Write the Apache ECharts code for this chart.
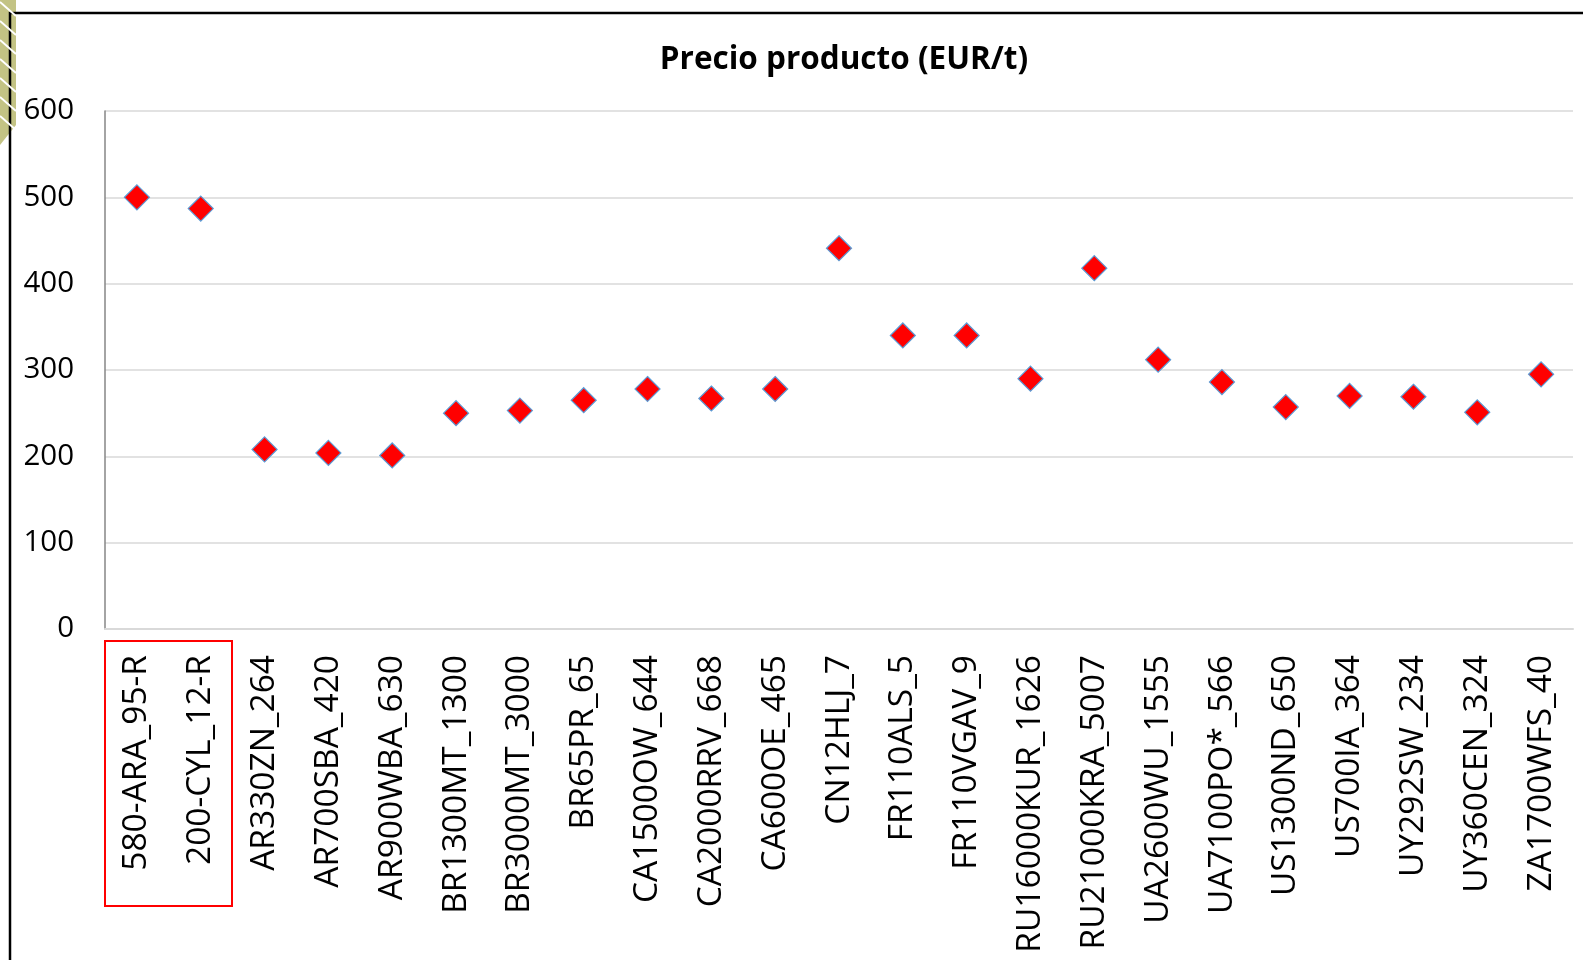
<!DOCTYPE html>
<html>
<head>
<meta charset="utf-8">
<script src="https://cdn.jsdelivr.net/npm/echarts@6/dist/echarts.min.js"></script>
<style>
  html, body { margin: 0; padding: 0; background: #fff; }
  #main { width: 1583px; height: 960px; }
</style>
</head>
<body>
<div id="main"></div>
<script>
// categories on the x axis
let plantas = [
    '580-ARA_95-R', '200-CYL_12-R', 'AR330ZN_264', 'AR700SBA_420', 'AR900WBA_630',
    'BR1300MT_1300', 'BR3000MT_3000', 'BR65PR_65', 'CA1500OW_644', 'CA2000RRV_668',
    'CA600OE_465', 'CN12HLJ_7', 'FR110ALS_5', 'FR110VGAV_9', 'RU16000KUR_1626',
    'RU21000KRA_5007', 'UA2600WU_1555', 'UA7100PO*_566', 'US1300ND_650', 'US700IA_364',
    'UY292SW_234', 'UY360CEN_324', 'ZA1700WFS_40'
];
// precio producto, EUR/t
let precio = [
    500, 487, 208, 204, 201,
    250, 253, 265, 278, 267,
    278, 441, 340, 340, 290,
    418, 312, 286, 257, 270,
    269, 251, 295
];
let yTicks = { min: 0, max: 600, interval: 100 };

let chartDom = document.getElementById('main');
let myChart = echarts.init(chartDom);
let option;

// striped corner decoration, top left
let stripes = [];
for (let i = 0; i < 7; i++) {
    let y0 = 2 + i * 19;
    stripes.push({
        type: 'line',
        shape: { x1: 0, y1: y0, x2: 16, y2: y0 + 14 },
        style: { stroke: '#ffffff', lineWidth: 2 },
        z: 3
    });
}

option = {
    backgroundColor: '#ffffff',
    animation: false,
    title: {
        text: 'Precio producto (EUR/t)',
        left: 839,
        top: 39,
        textAlign: 'center',
        textStyle: {
            fontFamily: '"Open Sans", sans-serif',
            fontWeight: 'bold',
            fontSize: 31.5,
            color: '#000'
        }
    },
    grid: {
        left: 105,
        right: 10,
        top: 111,
        bottom: 331
    },
    xAxis: {
        type: 'category',
        data: plantas,
        boundaryGap: true,
        axisLine: {
            show: true,
            lineStyle: { color: '#d9d9d9', width: 2 }
        },
        axisTick: { show: false },
        axisLabel: {
            rotate: 90,
            margin: 26,
            interval: 0,
            color: '#000',
            fontFamily: '"Open Sans", sans-serif',
            fontSize: 33.5
        }
    },
    yAxis: {
        type: 'value',
        min: yTicks.min,
        max: yTicks.max,
        interval: yTicks.interval,
        axisLine: {
            show: true,
            lineStyle: { color: '#868686', width: 1.5 }
        },
        axisTick: { show: false },
        axisLabel: {
            margin: 31,
            color: '#000',
            fontFamily: '"Open Sans", sans-serif',
            fontSize: 29.5
        },
        splitLine: {
            show: true,
            lineStyle: { color: '#d9d9d9', width: 1.5 }
        }
    },
    series: [{
        name: 'Precio',
        type: 'scatter',
        data: precio,
        symbol: 'diamond',
        symbolSize: 25,
        itemStyle: {
            color: '#ff0000',
            opacity: 1,
            borderColor: '#5b9bd5',
            borderWidth: 1.2
        },
        z: 5
    }],
    graphic: [
        // frame of the slide
        {
            type: 'polyline',
            shape: { points: [[10, 960], [10, 13], [1583, 13]] },
            style: { stroke: '#000', lineWidth: 2.5, fill: null },
            z: 2
        },
        // olive corner band
        {
            type: 'polygon',
            shape: { points: [[0, 0], [16, 0], [16, 125], [0, 145]] },
            style: { fill: '#c3c384' },
            z: 1
        },
        // red box round the first two labels
        {
            type: 'rect',
            shape: { x: 105, y: 641, width: 127, height: 265 },
            style: { stroke: '#ff0000', lineWidth: 2, fill: null },
            z: 4
        }
    ].concat(stripes)
};

option && myChart.setOption(option);
</script>
</body>
</html>
